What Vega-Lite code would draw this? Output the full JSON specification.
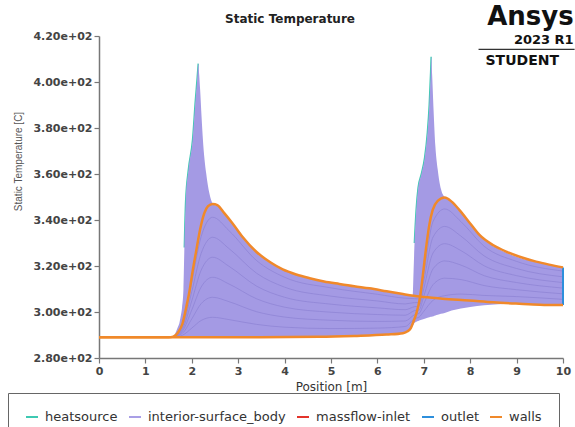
{
  "$schema": "https://vega.github.io/schema/vega-lite/v6.json",
  "width": 464,
  "height": 322,
  "autosize": {"type": "none"},
  "padding": {"left": 99, "top": 36, "right": 12, "bottom": 69},
  "background": "white",
  "title": {"text": "Static Temperature", "font": "DejaVu Sans", "fontSize": 12, "fontWeight": "bold", "color": "#222", "anchor": "middle", "dx": -41, "offset": -22},
  "datasets": {
    "heat": [
      {"x": 1.838, "T": 328, "seg": "h1", "surface": "heatsource"},
      {"x": 1.866, "T": 348, "seg": "h1", "surface": "heatsource"},
      {"x": 1.926, "T": 362, "seg": "h1", "surface": "heatsource"},
      {"x": 2.016, "T": 375, "seg": "h1", "surface": "heatsource"},
      {"x": 2.076, "T": 392, "seg": "h1", "surface": "heatsource"},
      {"x": 2.116, "T": 402, "seg": "h1", "surface": "heatsource"},
      {"x": 2.138, "T": 408, "seg": "h1", "surface": "heatsource"},
      {"x": 6.796, "T": 330, "seg": "h2", "surface": "heatsource"},
      {"x": 6.836, "T": 345, "seg": "h2", "surface": "heatsource"},
      {"x": 6.876, "T": 354, "seg": "h2", "surface": "heatsource"},
      {"x": 6.946, "T": 360, "seg": "h2", "surface": "heatsource"},
      {"x": 7.016, "T": 367, "seg": "h2", "surface": "heatsource"},
      {"x": 7.076, "T": 378, "seg": "h2", "surface": "heatsource"},
      {"x": 7.116, "T": 390, "seg": "h2", "surface": "heatsource"},
      {"x": 7.146, "T": 404, "seg": "h2", "surface": "heatsource"},
      {"x": 7.158, "T": 411, "seg": "h2", "surface": "heatsource"}
    ],
    "body": [
      {"x": 0, "hi": 289, "lo": 289},
      {"x": 1.5, "hi": 289, "lo": 289},
      {"x": 1.6, "hi": 289.5, "lo": 289},
      {"x": 1.65, "hi": 291, "lo": 289},
      {"x": 1.7, "hi": 293.5, "lo": 289},
      {"x": 1.73, "hi": 295, "lo": 289},
      {"x": 1.76, "hi": 298, "lo": 289},
      {"x": 1.79, "hi": 302, "lo": 289},
      {"x": 1.82, "hi": 310, "lo": 289},
      {"x": 1.84, "hi": 328, "lo": 289},
      {"x": 1.87, "hi": 348, "lo": 289},
      {"x": 1.93, "hi": 362, "lo": 289},
      {"x": 2.02, "hi": 375, "lo": 289},
      {"x": 2.08, "hi": 392, "lo": 289},
      {"x": 2.12, "hi": 402, "lo": 289},
      {"x": 2.14, "hi": 408, "lo": 289},
      {"x": 2.16, "hi": 403, "lo": 289},
      {"x": 2.18, "hi": 396.5, "lo": 289},
      {"x": 2.21, "hi": 385, "lo": 289},
      {"x": 2.24, "hi": 374.8, "lo": 289},
      {"x": 2.31, "hi": 360.3, "lo": 289},
      {"x": 2.38, "hi": 351.5, "lo": 289},
      {"x": 2.45, "hi": 347.2, "lo": 289},
      {"x": 2.6, "hi": 345.5, "lo": 289},
      {"x": 2.8, "hi": 340.5, "lo": 289},
      {"x": 3.0, "hi": 335.5, "lo": 289},
      {"x": 3.4, "hi": 326, "lo": 289},
      {"x": 4.0, "hi": 318, "lo": 289.1},
      {"x": 4.5, "hi": 315, "lo": 289.2},
      {"x": 5.0, "hi": 312.8, "lo": 289.3},
      {"x": 5.5, "hi": 311.2, "lo": 289.6},
      {"x": 6.0, "hi": 309.7, "lo": 290},
      {"x": 6.5, "hi": 308, "lo": 290.6},
      {"x": 6.6, "hi": 307.7, "lo": 291.2},
      {"x": 6.7, "hi": 307.4, "lo": 292.5},
      {"x": 6.76, "hi": 307.2, "lo": 294},
      {"x": 6.78, "hi": 318, "lo": 294.6},
      {"x": 6.8, "hi": 330, "lo": 295.3},
      {"x": 6.84, "hi": 345, "lo": 295.8},
      {"x": 6.88, "hi": 354, "lo": 296.1},
      {"x": 6.95, "hi": 360, "lo": 296.6},
      {"x": 7.02, "hi": 367, "lo": 297.1},
      {"x": 7.08, "hi": 378, "lo": 297.5},
      {"x": 7.12, "hi": 390, "lo": 297.7},
      {"x": 7.15, "hi": 404, "lo": 297.9},
      {"x": 7.16, "hi": 411, "lo": 297.9},
      {"x": 7.18, "hi": 403, "lo": 298},
      {"x": 7.21, "hi": 388, "lo": 298.2},
      {"x": 7.25, "hi": 372, "lo": 298.5},
      {"x": 7.3, "hi": 362, "lo": 298.8},
      {"x": 7.37, "hi": 353.5, "lo": 299.2},
      {"x": 7.45, "hi": 350, "lo": 299.6},
      {"x": 7.6, "hi": 348, "lo": 300.6},
      {"x": 7.8, "hi": 343.5, "lo": 301.5},
      {"x": 8.0, "hi": 338.5, "lo": 302.2},
      {"x": 8.3, "hi": 331.5, "lo": 302.9},
      {"x": 8.6, "hi": 327.5, "lo": 303.4},
      {"x": 9.0, "hi": 324, "lo": 303.6},
      {"x": 9.5, "hi": 321.3, "lo": 303.2},
      {"x": 10, "hi": 319.4, "lo": 303}
    ],
    "inner": [
      {"f": "a", "x": 0, "T": 289}, {"f": "a", "x": 1.6, "T": 289}, {"f": "a", "x": 1.8, "T": 289.9}, {"f": "a", "x": 2.0, "T": 293}, {"f": "a", "x": 2.2, "T": 296.3}, {"f": "a", "x": 2.45, "T": 297.7}, {"f": "a", "x": 2.8, "T": 296.7}, {"f": "a", "x": 3.4, "T": 294.6}, {"f": "a", "x": 4.0, "T": 293.4}, {"f": "a", "x": 5.0, "T": 292.8}, {"f": "a", "x": 6.0, "T": 293}, {"f": "a", "x": 6.6, "T": 293.7}, {"f": "a", "x": 6.8, "T": 297.1}, {"f": "a", "x": 6.9, "T": 297.8}, {"f": "a", "x": 7.0, "T": 300.3}, {"f": "a", "x": 7.2, "T": 305.1}, {"f": "a", "x": 7.45, "T": 307.1}, {"f": "a", "x": 7.8, "T": 307.8}, {"f": "a", "x": 8.3, "T": 307.2}, {"f": "a", "x": 9.0, "T": 306.7}, {"f": "a", "x": 10, "T": 305.5},
      {"f": "b", "x": 0, "T": 289}, {"f": "b", "x": 1.6, "T": 289.1}, {"f": "b", "x": 1.8, "T": 290.8}, {"f": "b", "x": 2.0, "T": 297}, {"f": "b", "x": 2.2, "T": 303.6}, {"f": "b", "x": 2.45, "T": 306.4}, {"f": "b", "x": 2.8, "T": 304.5}, {"f": "b", "x": 3.4, "T": 300.1}, {"f": "b", "x": 4.0, "T": 297.8}, {"f": "b", "x": 5.0, "T": 296.4}, {"f": "b", "x": 6.0, "T": 295.9}, {"f": "b", "x": 6.6, "T": 296.1}, {"f": "b", "x": 6.8, "T": 298.8}, {"f": "b", "x": 6.9, "T": 299.4}, {"f": "b", "x": 7.0, "T": 303.6}, {"f": "b", "x": 7.2, "T": 311.9}, {"f": "b", "x": 7.45, "T": 314.7}, {"f": "b", "x": 7.8, "T": 314.1}, {"f": "b", "x": 8.3, "T": 311.5}, {"f": "b", "x": 9.0, "T": 309.7}, {"f": "b", "x": 10, "T": 307.9},
      {"f": "c", "x": 0, "T": 289}, {"f": "c", "x": 1.6, "T": 289.1}, {"f": "c", "x": 1.8, "T": 291.7}, {"f": "c", "x": 2.0, "T": 300.9}, {"f": "c", "x": 2.2, "T": 310.8}, {"f": "c", "x": 2.45, "T": 315.1}, {"f": "c", "x": 2.8, "T": 312.2}, {"f": "c", "x": 3.4, "T": 305.7}, {"f": "c", "x": 4.0, "T": 302.1}, {"f": "c", "x": 5.0, "T": 299.9}, {"f": "c", "x": 6.0, "T": 298.9}, {"f": "c", "x": 6.6, "T": 298.6}, {"f": "c", "x": 6.8, "T": 300.6}, {"f": "c", "x": 6.9, "T": 300.9}, {"f": "c", "x": 7.0, "T": 306.9}, {"f": "c", "x": 7.2, "T": 318.8}, {"f": "c", "x": 7.45, "T": 322.2}, {"f": "c", "x": 7.8, "T": 320.4}, {"f": "c", "x": 8.3, "T": 315.8}, {"f": "c", "x": 9.0, "T": 312.8}, {"f": "c", "x": 10, "T": 310.4},
      {"f": "d", "x": 0, "T": 289}, {"f": "d", "x": 1.6, "T": 289.2}, {"f": "d", "x": 1.8, "T": 292.6}, {"f": "d", "x": 2.0, "T": 304.9}, {"f": "d", "x": 2.2, "T": 318.1}, {"f": "d", "x": 2.45, "T": 323.8}, {"f": "d", "x": 2.8, "T": 319.9}, {"f": "d", "x": 3.4, "T": 311.2}, {"f": "d", "x": 4.0, "T": 306.4}, {"f": "d", "x": 5.0, "T": 303.4}, {"f": "d", "x": 6.0, "T": 301.8}, {"f": "d", "x": 6.6, "T": 301}, {"f": "d", "x": 6.8, "T": 302.3}, {"f": "d", "x": 6.9, "T": 302.5}, {"f": "d", "x": 7.0, "T": 310.2}, {"f": "d", "x": 7.2, "T": 325.7}, {"f": "d", "x": 7.45, "T": 329.7}, {"f": "d", "x": 7.8, "T": 326.7}, {"f": "d", "x": 8.3, "T": 320.1}, {"f": "d", "x": 9.0, "T": 315.8}, {"f": "d", "x": 10, "T": 312.8},
      {"f": "e", "x": 0, "T": 289}, {"f": "e", "x": 1.6, "T": 289.2}, {"f": "e", "x": 1.8, "T": 293.5}, {"f": "e", "x": 2.0, "T": 308.9}, {"f": "e", "x": 2.2, "T": 325.4}, {"f": "e", "x": 2.45, "T": 332.5}, {"f": "e", "x": 2.8, "T": 327.6}, {"f": "e", "x": 3.4, "T": 316.8}, {"f": "e", "x": 4.0, "T": 310.8}, {"f": "e", "x": 5.0, "T": 306.9}, {"f": "e", "x": 6.0, "T": 304.8}, {"f": "e", "x": 6.6, "T": 303.5}, {"f": "e", "x": 6.8, "T": 304.1}, {"f": "e", "x": 6.9, "T": 304.1}, {"f": "e", "x": 7.0, "T": 313.5}, {"f": "e", "x": 7.2, "T": 332.6}, {"f": "e", "x": 7.45, "T": 337.2}, {"f": "e", "x": 7.8, "T": 333}, {"f": "e", "x": 8.3, "T": 324.4}, {"f": "e", "x": 9.0, "T": 318.9}, {"f": "e", "x": 10, "T": 315.3},
      {"f": "g", "x": 0, "T": 289}, {"f": "g", "x": 1.6, "T": 289.3}, {"f": "g", "x": 1.8, "T": 294.4}, {"f": "g", "x": 2.0, "T": 312.9}, {"f": "g", "x": 2.2, "T": 332.7}, {"f": "g", "x": 2.45, "T": 341.2}, {"f": "g", "x": 2.8, "T": 335.4}, {"f": "g", "x": 3.4, "T": 322.3}, {"f": "g", "x": 4.0, "T": 315.1}, {"f": "g", "x": 5.0, "T": 310.5}, {"f": "g", "x": 6.0, "T": 307.7}, {"f": "g", "x": 6.6, "T": 306}, {"f": "g", "x": 6.8, "T": 305.8}, {"f": "g", "x": 6.9, "T": 305.7}, {"f": "g", "x": 7.0, "T": 316.8}, {"f": "g", "x": 7.2, "T": 339.4}, {"f": "g", "x": 7.45, "T": 344.8}, {"f": "g", "x": 7.8, "T": 339.3}, {"f": "g", "x": 8.3, "T": 328.6}, {"f": "g", "x": 9.0, "T": 322}, {"f": "g", "x": 10, "T": 317.8}
    ],
    "outlet": [
      {"x": 10, "lo": 303, "hi": 319.4, "surface": "outlet"}
    ],
    "walls": [
      {"seg": "A", "x": 0, "T": 289}, {"seg": "A", "x": 1.5, "T": 289}, {"seg": "A", "x": 1.6, "T": 289.3}, {"seg": "A", "x": 1.7, "T": 291}, {"seg": "A", "x": 1.8, "T": 295}, {"seg": "A", "x": 1.88, "T": 302}, {"seg": "A", "x": 1.95, "T": 309}, {"seg": "A", "x": 2.02, "T": 318}, {"seg": "A", "x": 2.09, "T": 326}, {"seg": "A", "x": 2.18, "T": 336}, {"seg": "A", "x": 2.27, "T": 343}, {"seg": "A", "x": 2.35, "T": 346}, {"seg": "A", "x": 2.45, "T": 347}, {"seg": "A", "x": 2.55, "T": 346.5}, {"seg": "A", "x": 2.7, "T": 343}, {"seg": "A", "x": 2.88, "T": 338.5}, {"seg": "A", "x": 3.1, "T": 332.5}, {"seg": "A", "x": 3.39, "T": 326.2}, {"seg": "A", "x": 3.7, "T": 321.5}, {"seg": "A", "x": 3.96, "T": 318.5}, {"seg": "A", "x": 4.25, "T": 316.3}, {"seg": "A", "x": 4.54, "T": 314.7}, {"seg": "A", "x": 4.85, "T": 313.3}, {"seg": "A", "x": 5.18, "T": 312.2}, {"seg": "A", "x": 5.5, "T": 311.2}, {"seg": "A", "x": 5.83, "T": 310.3}, {"seg": "A", "x": 6.2, "T": 309}, {"seg": "A", "x": 6.55, "T": 307.8}, {"seg": "A", "x": 6.91, "T": 306.7}, {"seg": "A", "x": 7.4, "T": 305.8}, {"seg": "A", "x": 7.98, "T": 305}, {"seg": "A", "x": 8.5, "T": 304.2}, {"seg": "A", "x": 9.06, "T": 303.6}, {"seg": "A", "x": 9.5, "T": 303.2}, {"seg": "A", "x": 10, "T": 303},
      {"seg": "B", "x": 0, "T": 289}, {"seg": "B", "x": 3, "T": 289}, {"seg": "B", "x": 4.75, "T": 289.2}, {"seg": "B", "x": 5.5, "T": 289.6}, {"seg": "B", "x": 6.2, "T": 290.2}, {"seg": "B", "x": 6.55, "T": 290.8}, {"seg": "B", "x": 6.65, "T": 291.6}, {"seg": "B", "x": 6.72, "T": 293}, {"seg": "B", "x": 6.78, "T": 296}, {"seg": "B", "x": 6.84, "T": 299.4}, {"seg": "B", "x": 6.92, "T": 306.6}, {"seg": "B", "x": 6.98, "T": 316}, {"seg": "B", "x": 7.05, "T": 328}, {"seg": "B", "x": 7.12, "T": 338}, {"seg": "B", "x": 7.19, "T": 344.3}, {"seg": "B", "x": 7.3, "T": 348.3}, {"seg": "B", "x": 7.45, "T": 349.8}, {"seg": "B", "x": 7.6, "T": 348}, {"seg": "B", "x": 7.77, "T": 344.3}, {"seg": "B", "x": 8.0, "T": 338.5}, {"seg": "B", "x": 8.2, "T": 333.5}, {"seg": "B", "x": 8.5, "T": 329}, {"seg": "B", "x": 8.78, "T": 326.2}, {"seg": "B", "x": 9.1, "T": 323.8}, {"seg": "B", "x": 9.42, "T": 321.9}, {"seg": "B", "x": 9.7, "T": 320.6}, {"seg": "B", "x": 10, "T": 319.4}
    ]
  },
  "layer": [
    {
      "data": {"name": "heat"},
      "mark": {"type": "line", "strokeWidth": 1.4, "interpolate": "monotone"},
      "encoding": {
        "x": {"field": "x", "type": "quantitative"},
        "y": {"field": "T", "type": "quantitative"},
        "detail": {"field": "seg"},
        "color": {"field": "surface", "type": "nominal"}
      }
    },
    {
      "data": {"name": "body"},
      "mark": {"type": "area", "color": "#a49ae4", "interpolate": "monotone"},
      "encoding": {
        "x": {"field": "x", "type": "quantitative"},
        "y": {"field": "hi", "type": "quantitative"},
        "y2": {"field": "lo"}
      }
    },
    {
      "data": {"name": "inner"},
      "mark": {"type": "line", "color": "#8c81d3", "strokeWidth": 0.8, "opacity": 0.85, "interpolate": "monotone"},
      "encoding": {
        "x": {"field": "x", "type": "quantitative"},
        "y": {"field": "T", "type": "quantitative"},
        "detail": {"field": "f"}
      }
    },
    {
      "data": {"name": "outlet"},
      "mark": {"type": "rule", "strokeWidth": 2},
      "encoding": {
        "x": {"field": "x", "type": "quantitative"},
        "y": {"field": "lo", "type": "quantitative"},
        "y2": {"field": "hi"},
        "color": {"field": "surface", "type": "nominal"}
      }
    },
    {
      "data": {"name": "walls"},
      "transform": [{"calculate": "'walls'", "as": "surface"}],
      "mark": {"type": "line", "strokeWidth": 2.5, "interpolate": "monotone"},
      "encoding": {
        "x": {
          "field": "x", "type": "quantitative",
          "scale": {"domain": [0, 10], "nice": false, "zero": false},
          "axis": {
            "values": [0, 1, 2, 3, 4, 5, 6, 7, 8, 9, 10],
            "format": "d",
            "title": "Position [m]",
            "grid": false,
            "labelFlush": false,
            "labelFont": "DejaVu Sans", "labelFontSize": 11, "labelFontWeight": "bold", "labelColor": "#444",
            "labelPadding": 2,
            "tickSize": 5, "tickColor": "#777", "tickWidth": 1.2,
            "domainColor": "#777", "domainWidth": 1.5,
            "titleFont": "DejaVu Sans", "titleFontSize": 12, "titleFontWeight": "normal", "titleColor": "#333",
            "titlePadding": 5
          }
        },
        "y": {
          "field": "T", "type": "quantitative",
          "scale": {"domain": [280, 420], "nice": false, "zero": false},
          "axis": {
            "values": [280, 290, 300, 310, 320, 330, 340, 350, 360, 370, 380, 390, 400, 410, 420],
            "labelExpr": "datum.value % 20 === 0 ? format(datum.value / 100, '.2f') + 'e+02' : ''",
            "tickSize": {"condition": {"test": "datum.value % 20 === 0", "value": 5}, "value": 3},
            "title": "Static Temperature [C]",
            "grid": false,
            "labelFlush": false,
            "labelOverlap": false,
            "labelFont": "DejaVu Sans", "labelFontSize": 11, "labelFontWeight": "bold", "labelColor": "#444",
            "labelPadding": 2,
            "tickColor": "#777", "tickWidth": 1.2,
            "domainColor": "#777", "domainWidth": 1.5,
            "titleFont": "Liberation Sans Narrow, Liberation Sans", "titleFontSize": 10, "titleFontWeight": "normal", "titleColor": "#555",
            "titleAngle": -90, "titleAlign": "center", "titleBaseline": "middle",
            "titleX": -81, "titleY": 125
          }
        },
        "detail": {"field": "seg"},
        "color": {
          "field": "surface", "type": "nominal",
          "scale": {
            "domain": ["heatsource", "interior-surface_body", "massflow-inlet", "outlet", "walls"],
            "range": ["#3ec9b2", "#a99fe6", "#e3342b", "#2d8fdc", "#f0892a"]
          },
          "legend": {
            "orient": "none", "legendX": -91, "legendY": 357,
            "direction": "horizontal", "columns": 5, "gridAlign": "none",
            "title": null,
            "symbolType": "stroke", "symbolStrokeWidth": 2, "symbolSize": 144,
            "labelFont": "DejaVu Sans", "labelFontSize": 13, "labelColor": "#333", "labelOffset": 6,
            "columnPadding": 7,
            "padding": 17,
            "strokeColor": "#666"
          }
        }
      }
    },
    {
      "data": {"values": [{"x": 8.18, "x2": 10.25, "T": 414.2}]},
      "mark": {"type": "rule", "color": "#333", "strokeWidth": 1.2},
      "encoding": {
        "x": {"field": "x", "type": "quantitative"},
        "x2": {"field": "x2"},
        "y": {"field": "T", "type": "quantitative"}
      }
    },
    {
      "data": {"values": [{"x": 10.23, "T": 424.6, "label": "Ansys"}]},
      "mark": {"type": "text", "font": "DejaVu Sans", "fontSize": 26, "fontWeight": "bold", "color": "#111", "align": "right", "baseline": "alphabetic"},
      "encoding": {
        "x": {"field": "x", "type": "quantitative"},
        "y": {"field": "T", "type": "quantitative"},
        "text": {"field": "label"}
      }
    },
    {
      "data": {"values": [{"x": 10.23, "T": 416.5, "label": "2023 R1"}]},
      "mark": {"type": "text", "font": "DejaVu Sans", "fontSize": 13, "fontWeight": "bold", "color": "#111", "align": "right", "baseline": "alphabetic"},
      "encoding": {
        "x": {"field": "x", "type": "quantitative"},
        "y": {"field": "T", "type": "quantitative"},
        "text": {"field": "label"}
      }
    },
    {
      "data": {"values": [{"x": 8.33, "T": 407.4, "label": "STUDENT"}]},
      "mark": {"type": "text", "font": "DejaVu Sans", "fontSize": 14, "fontWeight": "bold", "color": "#111", "align": "left", "baseline": "alphabetic"},
      "encoding": {
        "x": {"field": "x", "type": "quantitative"},
        "y": {"field": "T", "type": "quantitative"},
        "text": {"field": "label"}
      }
    }
  ],
  "config": {
    "view": {"stroke": null},
    "axis": {"grid": false}
  }
}
